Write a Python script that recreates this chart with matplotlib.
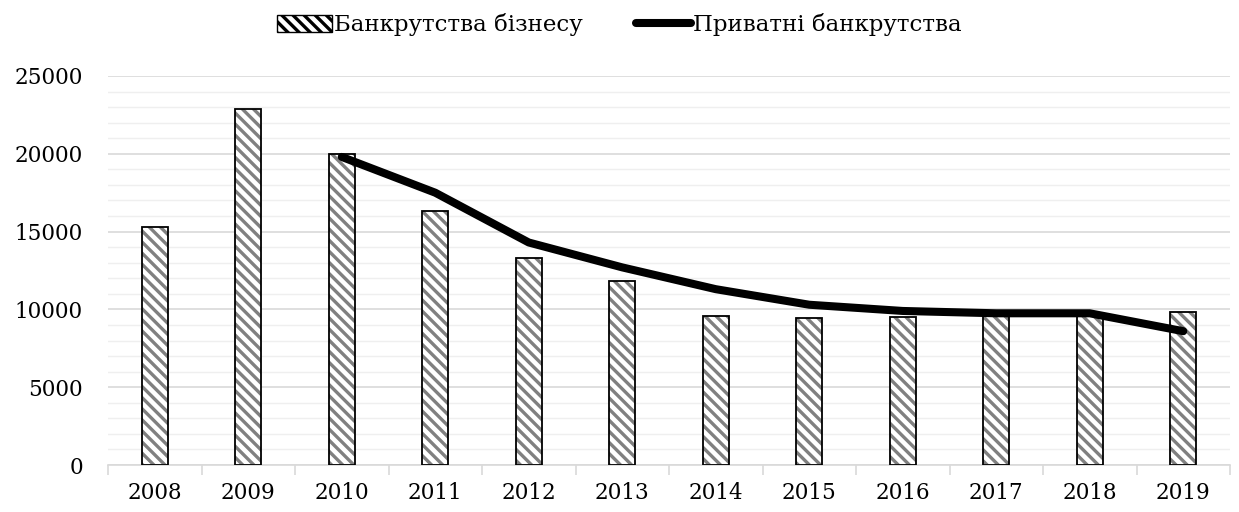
import matplotlib
matplotlib.use("Agg")
import matplotlib.pyplot as plt
import numpy as np
from matplotlib.patches import Patch
from matplotlib.lines import Line2D

years = ["2008", "2009", "2010", "2011", "2012", "2013", "2014", "2015", "2016", "2017", "2018", "2019"]
business = [15300, 22900, 20000, 16300, 13300, 11800, 9600, 9450, 9500, 9700, 9700, 9850]
private_years = ["2010", "2011", "2012", "2013", "2014", "2015", "2016", "2017", "2018", "2019"]
private = [19800, 17500, 14300, 12700, 11300, 10300, 9900, 9750, 9750, 8600]

plt.rcParams['font.family'] = ['DejaVu Serif']
plt.rcParams['hatch.linewidth'] = 2.4
plt.rcParams['hatch.color'] = '#808080'

fig = plt.figure(figsize=(12.39, 5.12), dpi=100)
ax = fig.add_axes([108/1239, 1-465/512, (1230-108)/1239, (465-76)/512])

x = np.arange(len(years))
bw = 0.28
ax.bar(x, business, width=bw, color='white', edgecolor='#808080', hatch='\\\\\\', linewidth=0, zorder=2)
ax.bar(x, business, width=bw, color='none', edgecolor='black', linewidth=1.3, zorder=3)

px = [years.index(y) for y in private_years]
ax.plot(px, private, color='black', linewidth=5.8, solid_capstyle='round', zorder=4)

ax.set_xlim(-0.5, len(years) - 0.5)
ax.set_ylim(0, 25000)
ax.set_yticks(np.arange(0, 25001, 5000))
ax.set_yticks(np.arange(0, 25001, 1000), minor=True)
ax.grid(axis='y', which='major', color='#d9d9d9', linewidth=1.2, zorder=0)
ax.grid(axis='y', which='minor', color='#efefef', linewidth=1.0, zorder=0)
ax.set_axisbelow(True)
ax.tick_params(axis='y', which='both', length=0, labelsize=15.5, pad=18)
ax.set_xticks(x)
ax.set_xticklabels(years, fontsize=15.5)
ax.set_xticks(np.arange(-0.5, len(years), 1), minor=True)
ax.tick_params(axis='x', which='major', length=0, pad=12)
ax.tick_params(axis='x', which='minor', length=7, color='#d9d9d9', width=1.2)
for s in ['top', 'right', 'left']:
    ax.spines[s].set_visible(False)
ax.spines['bottom'].set_color('#d9d9d9')
ax.spines['bottom'].set_linewidth(1.2)

handles = [Patch(facecolor='white', edgecolor='black', hatch='\\\\\\', linewidth=1.0),
           Line2D([0], [0], color='black', linewidth=5.8, solid_capstyle='round')]
fig.legend(handles, ['Банкрутства бізнесу', 'Приватні банкрутства'], loc='center',
           bbox_to_anchor=(0.5, 1-25/512), ncol=2, frameon=False, fontsize=16.5,
           handlelength=2.4, handletextpad=0.1, columnspacing=2.3)

fig.savefig('out.png', dpi=100)
